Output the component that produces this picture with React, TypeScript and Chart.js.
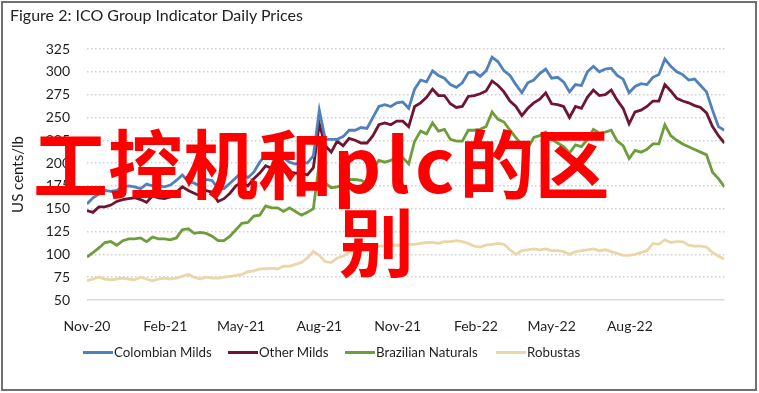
import React, { useEffect, useRef } from 'react';
import { Chart, registerables } from 'chart.js';

Chart.register(...registerables);

// ---- Data (weekly readings of the daily ICO group indicator prices, US cents/lb) ----
const startDate = '2020-11-01';
const tickLabels = ['Nov-20', 'Feb-21', 'May-21', 'Aug-21', 'Nov-21', 'Feb-22', 'May-22', 'Aug-22'];
const tickDates = ['2020-11-01', '2021-02-01', '2021-05-01', '2021-08-01', '2021-11-01', '2022-02-01', '2022-05-01', '2022-08-01'];

const colombianMilds = [
  155, 162, 166, 170, 169, 170, 174, 175, 174, 172, 177, 175, 175, 174, 176, 181, 187, 180, 178, 175,
  182, 181, 172, 172, 178, 184, 190, 184, 190, 201, 209, 206, 209, 206, 201, 199, 201, 200, 208, 258,
  226, 226, 226, 229, 236, 236, 239, 238, 250, 262, 264, 262, 266, 267, 260, 281, 291, 289, 301, 296,
  293, 286, 283, 288, 299, 300, 295, 301, 316, 311, 301, 296, 286, 277, 288, 291, 298, 303, 293, 294,
  289, 278, 286, 285, 300, 306, 300, 303, 304, 296, 292, 277, 284, 287, 286, 294, 297, 314, 306, 300,
  297, 291, 292, 285, 278, 258, 240, 236,
];
const otherMilds = [
  148, 146, 152, 152, 154, 158, 160, 161, 162, 160, 157, 164, 162, 161, 163, 168, 174, 170, 167, 164,
  170, 168, 158, 161, 167, 175, 179, 175, 183, 189, 197, 194, 197, 193, 190, 189, 189, 187, 195, 243,
  219, 212, 224, 219, 227, 225, 222, 222, 230, 242, 244, 242, 246, 246, 240, 262, 266, 272, 281, 274,
  274, 265, 261, 262, 273, 274, 276, 279, 290, 285, 278, 268, 262, 252, 260, 266, 270, 277, 265, 264,
  262, 250, 262, 260, 272, 280, 274, 275, 280, 269, 260, 243, 256, 258, 262, 268, 268, 286, 279, 271,
  268, 266, 263, 261, 255, 240, 230, 222,
];
const brazilianNaturals = [
  97, 102, 107, 113, 114, 110, 115, 117, 117, 118, 114, 119, 117, 117, 116, 118, 127, 128, 123, 124,
  123, 120, 115, 115, 120, 127, 134, 135, 142, 143, 153, 151, 151, 147, 151, 147, 143, 146, 150, 201,
  178, 173, 174, 176, 182, 182, 181, 178, 193, 203, 201, 203, 206, 206, 199, 224, 235, 232, 244, 235,
  237, 226, 224, 224, 236, 236, 237, 240, 256, 248, 245, 236, 228, 220, 216, 228, 230, 234, 226, 222,
  218, 211, 220, 218, 226, 237, 233, 234, 236, 224, 219, 205, 214, 212, 215, 221, 221, 242, 230, 225,
  221, 218, 215, 212, 209, 190, 183, 174,
];
const robustas = [
  71, 73, 75, 73, 72, 73, 74, 73, 72, 75, 73, 71, 73, 74, 73, 74, 76, 78, 75, 73,
  75, 74, 74, 75, 76, 77, 78, 81, 82, 84, 84, 85, 84, 87, 87, 89, 91, 96, 103, 99,
  92, 91, 96, 98, 102, 104, 107, 106, 107, 109, 109, 110, 110, 110, 111, 111, 112, 113, 113, 112,
  114, 114, 115, 114, 112, 109, 108, 110, 111, 112, 111, 105, 100, 104, 105, 106, 105, 106, 104, 104,
  103, 100, 103, 104, 105, 106, 104, 105, 103, 101, 99, 99, 100, 102, 104, 112, 111, 116, 113, 114,
  114, 110, 109, 109, 108, 102, 98, 95,
];

const seriesNames = ['Colombian Milds', 'Other Milds', 'Brazilian Naturals', 'Robustas'];
const seriesValues = [colombianMilds, otherMilds, brazilianNaturals, robustas];
const seriesColors = ['#4F81BD', '#6E1530', '#6E9E3C', '#EBD6A8'];

const yMin = 50;
const yMax = 325;
const yStep = 25;

const DAY = 86400000;
const dayOf = (d: string) => Math.round((Date.parse(d) - Date.parse(startDate)) / DAY);
const weekDays = colombianMilds.map((_, i) => i * 7);
const tickDays = tickDates.map(dayOf);

const FONT = 'Lato, "Noto Sans", sans-serif';
const legendTextWidths = [90, 62, 96, 49];

export default function App() {
  const canvasRef = useRef<HTMLCanvasElement | null>(null);

  useEffect(() => {
    if (!canvasRef.current) return;
    const chart = new Chart(canvasRef.current, {
      type: 'line',
      data: {
        datasets: seriesNames.map((name, s) => ({
          label: name,
          data: seriesValues[s].map((v, i) => ({ x: weekDays[i], y: v })),
          borderColor: seriesColors[s],
          backgroundColor: seriesColors[s],
          borderWidth: 2.8,
          pointRadius: 0,
          tension: 0,
          fill: false,
        })),
      },
      options: {
        animation: false,
        responsive: true,
        maintainAspectRatio: false,
        layout: { padding: { left: 5, top: 49, right: 34.6, bottom: 60 } },
        plugins: {
          legend: { display: false },
          title: { display: false },
          tooltip: { enabled: false },
        },
        scales: {
          x: {
            type: 'linear',
            min: 0,
            max: weekDays[weekDays.length - 1],
            afterBuildTicks: (scale: any) => {
              scale.ticks = tickDays.map((v) => ({ value: v }));
            },
            afterFit: (scale: any) => {
              scale.height = 33;
            },
            ticks: {
              autoSkip: false,
              maxRotation: 0,
              padding: 10,
              color: '#1f1f1f',
              font: { family: FONT, size: 14 },
              callback: (_v: any, i: number) => tickLabels[i],
            },
            grid: { display: false },
            border: { display: false },
          },
          y: {
            min: yMin,
            max: yMax,
            afterFit: (scale: any) => {
              scale.width = 82;
            },
            ticks: {
              stepSize: yStep,
              padding: 17,
              color: '#1f1f1f',
              font: { family: FONT, size: 14 },
            },
            grid: {
              drawTicks: false,
              color: (ctx: any) => (ctx.tick && ctx.tick.value === yMin ? '#D9D9D9' : '#CFCFCF'),
              lineWidth: 1.5,
            },
            border: {
              display: false,
              dash: (ctx: any) => (ctx.tick && ctx.tick.value === yMin ? [] : [1.5, 2.5]),
            },
            title: {
              display: true,
              text: 'US cents/lb',
              color: '#1f1f1f',
              font: { family: FONT, size: 15 },
              padding: { top: 4, bottom: 0 },
            },
          },
        },
      },
    });
    return () => chart.destroy();
  }, []);

  return (
    <div style={{ position: 'fixed', left: 0, top: 0, width: 759, height: 393, background: '#fff', overflow: 'hidden' }}>
      <div style={{ position: 'absolute', left: 0, top: 0, width: 759, height: 393 }}>
        <canvas ref={canvasRef} style={{ display: 'block' }} />
      </div>
      <div
        style={{
          position: 'absolute',
          left: 10,
          top: 5,
          fontFamily: FONT,
          fontSize: 16,
          color: '#222',
          whiteSpace: 'nowrap',
        }}
      >
        Figure 2: ICO Group Indicator Daily Prices
      </div>
      <div
        style={{
          position: 'absolute',
          left: 83,
          top: 344,
          height: 16,
          display: 'flex',
          alignItems: 'center',
          fontFamily: FONT,
          fontSize: 13.3,
          color: '#1f1f1f',
          whiteSpace: 'nowrap',
        }}
      >
        {seriesNames.map((name, s) => (
          <div key={name} style={{ display: 'flex', alignItems: 'center', marginRight: 24 }}>
            <span style={{ display: 'inline-block', width: 30, height: 3, background: seriesColors[s] }} />
            <span style={{ marginLeft: 1, display: 'inline-block', width: legendTextWidths[s] }}>{name}</span>
          </div>
        ))}
      </div>
      <div
        style={{
          position: 'absolute',
          left: 1,
          top: 1,
          width: 756,
          height: 390,
          boxSizing: 'border-box',
          border: '2px solid #707070',
          pointerEvents: 'none',
        }}
      />
      <div
        style={{
          position: 'absolute',
          left: 33,
          top: 122,
          fontFamily: '"Noto Sans CJK SC", sans-serif',
          fontWeight: 700,
          fontSize: 75,
          lineHeight: '78px',
          color: '#FF0000',
          whiteSpace: 'nowrap',
        }}
      >
        工控机和<span style={{ letterSpacing: 5 }}>plc</span>的区
      </div>
      <div
        style={{
          position: 'absolute',
          left: 339,
          top: 200,
          fontFamily: '"Noto Sans CJK SC", sans-serif',
          fontWeight: 700,
          fontSize: 75,
          lineHeight: '78px',
          color: '#FF0000',
          whiteSpace: 'nowrap',
        }}
      >
        别
      </div>
    </div>
  );
}
